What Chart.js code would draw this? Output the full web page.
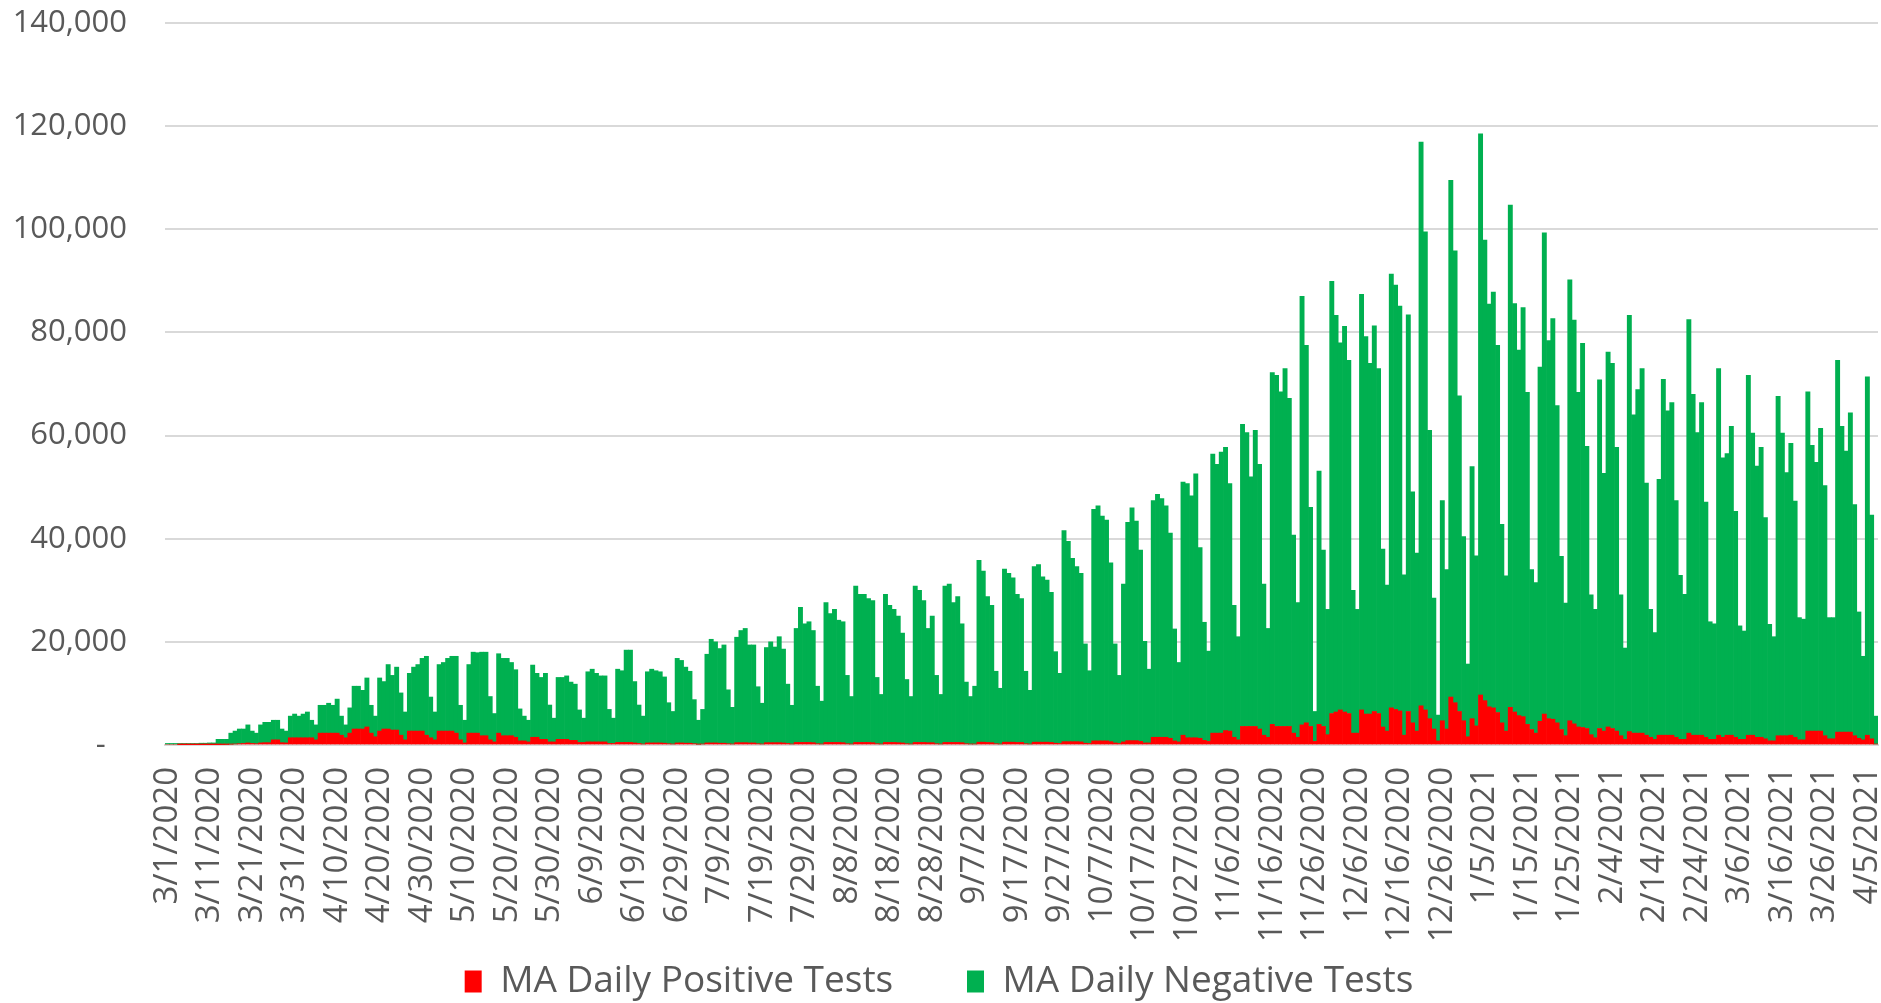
<!DOCTYPE html>
<html>
<head>
<meta charset="utf-8">
<script src="https://cdn.jsdelivr.net/npm/chart.js@4/dist/chart.umd.min.js"></script>
<style>
  html, body { margin: 0; padding: 0; background: #ffffff; }
  #wrap { width: 1881px; height: 1003px; }
</style>
</head>
<body>
<div id="wrap"><canvas id="c" width="1881" height="1003"></canvas></div>
<script>
// Categories: one per day, 3/1/2020 .. 4/7/2021 (labels shown every 10 days)
const firstDay = [2020, 2, 1];   // year, month index, day
const dayCount = 403;
const labelEvery = 10;

// Series values, one line per week (Sunday first)
const positiveTests = [
  0,0,0,1,2,3,5,
  8,10,15,20,30,60,80,
  100,150,200,250,300,400,300,
  250,400,450,450,1000,1000,450,
  400,1400,1400,1400,1400,1400,1400,
  1000,2300,2300,2300,2300,2300,1900,
  1400,2300,3100,3100,3100,3500,2300,
  1600,2700,3100,3100,2900,2900,1900,
  1000,2700,2700,2700,2700,1900,1400,
  1000,2700,2700,2700,2700,2300,1000,
  400,2300,2300,2300,1800,1800,1000,
  600,2300,1800,1800,1800,1500,800,
  800,600,1500,1500,1100,1100,600,
  600,1100,1100,1100,900,900,500,
  500,600,600,600,600,600,300,
  300,500,500,500,500,400,300,
  200,400,400,400,400,350,250,
  200,400,400,350,350,250,150,
  200,400,400,400,350,350,250,
  200,450,450,450,400,400,250,
  200,450,450,450,450,400,300,
  200,500,500,500,500,450,250,
  200,500,500,500,500,450,250,
  200,500,500,500,500,450,250,
  200,500,500,500,450,400,250,
  200,500,500,500,450,450,250,
  200,500,500,500,500,450,250,
  200,200,550,550,500,450,250,
  200,550,550,550,500,500,250,
  200,550,550,550,550,500,350,
  300,650,650,650,650,600,350,
  300,800,800,800,800,650,400,
  300,600,850,850,850,700,400,
  400,1500,1500,1500,1500,1300,800,
  600,1900,1400,1400,1400,1300,900,
  700,2300,2300,2300,2800,2700,1500,
  1000,3600,3600,3600,3600,3100,1900,
  1500,4000,3600,3600,3600,3600,2300,
  1500,3900,4300,3600,700,4000,3600,
  2000,6100,6400,6800,6400,6100,2300,
  2300,6800,6000,6000,6500,6100,3500,
  2700,7200,6900,6600,1900,6500,4300,
  2700,7600,6800,5100,3100,800,4700,
  3100,9300,8200,6500,4700,1600,5100,
  3700,9700,8600,7400,7200,6300,4300,
  2700,7300,6400,5700,5500,4000,3000,
  2300,4600,6000,5100,5000,4300,3000,
  1800,4700,4100,3500,3400,3200,2000,
  1400,3200,2700,3500,3200,2700,1800,
  1100,2600,2300,2300,2300,1900,1500,
  1100,1900,1900,1900,1900,1500,1100,
  1100,2300,1900,1900,1900,1500,1100,
  1100,1900,1500,1900,1900,1500,1100,
  1100,1900,1900,1500,1500,1200,800,
  800,1800,1800,1800,1900,1500,1000,
  1000,2700,2700,2700,2700,1800,1200,
  1200,2500,2500,2500,2500,1800,1300,
  1000,1900,1200,200
];

const negativeTests = [
  300,300,300,299,298,297,295,
  292,340,335,380,370,1040,1020,
  1000,2150,2500,2850,2800,3500,2400,
  2050,3500,3950,3950,3800,3800,2650,
  2300,4200,4600,4200,4600,5000,3400,
  2900,5400,5400,5800,5400,6600,3700,
  2500,4900,8300,8300,7500,9500,5400,
  4000,10300,9200,12500,10600,12200,8200,
  5400,11200,12400,12900,14100,15300,7900,
  5400,12900,13300,14100,14500,14900,6700,
  4400,13300,15700,15600,16200,16200,8400,
  5500,15400,15000,15000,14200,13100,6200,
  4800,4200,14000,12400,12000,12800,7150,
  4600,12000,12000,12300,11300,10900,6300,
  4700,13600,14100,13300,12800,12800,6600,
  4900,14200,13900,17900,17900,11900,7450,
  5400,13800,14300,14000,13800,12850,7950,
  6300,16400,16000,14750,13950,8550,4650,
  6700,17200,20100,19600,18350,19050,10450,
  7100,20450,21750,22150,19000,19000,11050,
  7900,18450,19550,18550,20550,18200,11500,
  7500,22100,26200,23000,23400,21750,11150,
  8300,27100,25000,25800,23700,23450,13250,
  9200,30300,28700,28700,27900,27550,12850,
  9600,28700,26600,25800,24550,21300,12450,
  9200,30300,29500,27500,22150,24550,13250,
  9600,30300,30700,27100,28300,23050,11950,
  9200,11200,35250,33150,28300,26650,14050,
  10800,33550,32750,31850,28700,27900,14050,
  10400,34050,34450,32050,31450,29100,17750,
  13600,40950,38850,35550,33950,32700,19250,
  14100,44900,45600,43600,42800,34650,19200,
  13200,30600,42350,45150,42550,37100,19700,
  14300,45900,47100,46300,44900,39800,21700,
  15400,49100,49300,46900,51200,37000,22900,
  17500,54100,52100,54500,54900,48000,25600,
  20000,58600,57000,48400,57400,51300,29300,
  21100,68200,68100,64900,69400,63600,38400,
  26100,83100,73200,42500,5800,49100,34200,
  24300,83800,76900,71200,74800,68500,27700,
  24000,80600,73200,68000,74800,66900,34500,
  28300,84100,82300,78500,31100,76900,44800,
  34500,109300,92700,55900,25400,5000,42700,
  30900,100200,87600,61200,35700,14100,48900,
  33000,108800,89300,78100,80600,71200,38500,
  30100,97400,79200,70900,79300,64400,31000,
  29200,68700,93300,73300,77700,61500,33600,
  25700,85500,78300,64900,74500,54700,27100,
  24900,67600,50000,72700,70800,55000,27300,
  17700,80700,61700,66600,70700,48900,24800,
  20700,49600,69000,62900,64500,45900,31800,
  28100,80200,66100,58700,64500,45600,22800,
  22400,71100,54200,54600,59900,43800,22000,
  21000,69800,58600,52600,56200,42900,22600,
  20200,65800,58700,51000,56600,45800,23700,
  23400,65800,55400,52100,58700,48500,23500,
  23500,72100,59300,54500,61900,44800,24500,
  16200,69500,43400,5400
];

const yMax = 140000;
const yStep = 20000;

const categories = [];
for (let i = 0; i < dayCount; i++) {
  const d = new Date(firstDay[0], firstDay[1], firstDay[2] + i);
  categories.push((d.getMonth() + 1) + '/' + d.getDate() + '/' + d.getFullYear());
}

const textColor = '#595959';
const fontFamily = "'Open Sans', 'DejaVu Sans', sans-serif";

new Chart(document.getElementById('c').getContext('2d'), {
  type: 'bar',
  data: {
    labels: categories,
    datasets: [
      { label: 'MA Daily Positive Tests', data: positiveTests, backgroundColor: '#FF0000',
        borderWidth: 0, barPercentage: 1.0, categoryPercentage: 1.0 },
      { label: 'MA Daily Negative Tests', data: negativeTests, backgroundColor: '#00B050',
        borderWidth: 0, barPercentage: 1.0, categoryPercentage: 1.0 }
    ]
  },
  options: {
    responsive: false,
    animation: false,
    layout: { padding: { left: 0, right: 3, top: 23, bottom: -7 } },
    scales: {
      x: {
        stacked: true,
        grid: { display: false, drawTicks: false },
        border: { display: true, color: '#d9d9d9', width: 2 },
        ticks: {
          autoSkip: false, maxRotation: 90, minRotation: 90, padding: 22,
          color: textColor, font: { family: fontFamily, size: 33 },
          callback: function (v, i) { return i % labelEvery === 0 ? categories[i] : ''; }
        },
        afterFit: function (s) { s.paddingLeft = 0; s.paddingRight = 0; s.height = 208; }
      },
      y: {
        stacked: true, min: 0, max: yMax,
        grid: { color: '#d9d9d9', lineWidth: 2, drawTicks: false },
        border: { display: false },
        ticks: {
          stepSize: yStep, padding: 38, color: textColor,
          font: { family: fontFamily, size: 31 },
          callback: function (v) { return v === 0 ? '-  \u2009' : v.toLocaleString('en-US'); }
        },
        afterFit: function (s) { s.paddingTop = 0; s.paddingBottom = 0; s.width = 165; }
      }
    },
    plugins: {
      legend: {
        position: 'bottom',
        labels: {
          boxWidth: 17, boxHeight: 22, padding: 10,
          color: textColor, font: { family: fontFamily, size: 37 },
          generateLabels: function (chart) {
            const items = Chart.defaults.plugins.legend.labels.generateLabels(chart);
            if (items.length > 0) { items[0].text = items[0].text + '      \u2009'; }
            return items;
          }
        }
      },
      tooltip: { enabled: false }
    }
  }
});
</script>
</body>
</html>
